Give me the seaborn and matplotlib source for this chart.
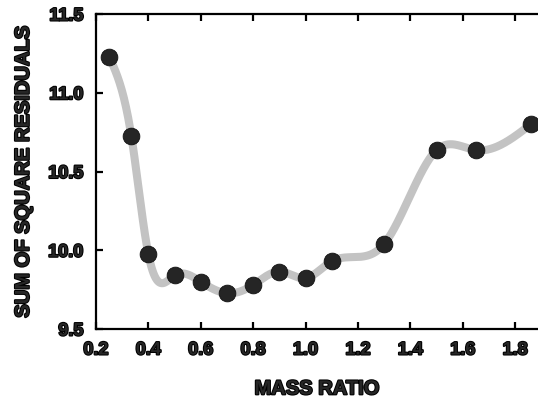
import numpy as np
import pandas as pd
import matplotlib
matplotlib.use('Agg')
import matplotlib.pyplot as plt
import matplotlib.patheffects as pe
import seaborn as sns

# data
mass_ratio = [0.25, 0.335, 0.40, 0.50, 0.60, 0.70, 0.80, 0.90, 1.00, 1.10, 1.30, 1.50, 1.65, 1.86]
ssr = [11.23, 10.725, 9.975, 9.84, 9.80, 9.727, 9.78, 9.865, 9.823, 9.93, 10.04, 10.636, 10.636, 10.80]
x_ticks = [0.2, 0.4, 0.6, 0.8, 1.0, 1.2, 1.4, 1.6, 1.8]
y_ticks = [9.5, 10.0, 10.5, 11.0, 11.5]


# natural cubic spline through the points (only for drawing the smooth grey curve)
def natural_spline(x, y, n=400):
    x = np.asarray(x, float)
    y = np.asarray(y, float)
    h = np.diff(x)
    k = len(x)
    A = np.zeros((k, k))
    b = np.zeros(k)
    A[0, 0] = 1
    A[-1, -1] = 1
    for i in range(1, k - 1):
        A[i, i - 1] = h[i - 1]
        A[i, i] = 2 * (h[i - 1] + h[i])
        A[i, i + 1] = h[i]
        b[i] = 6 * ((y[i + 1] - y[i]) / h[i] - (y[i] - y[i - 1]) / h[i - 1])
    M = np.linalg.solve(A, b)
    xs = np.linspace(x[0], x[-1], n)
    idx = np.clip(np.searchsorted(x, xs) - 1, 0, k - 2)
    x0, x1 = x[idx], x[idx + 1]
    hh = x1 - x0
    t0 = x1 - xs
    t1 = xs - x0
    ys = (M[idx] * t0 ** 3 + M[idx + 1] * t1 ** 3) / (6 * hh) \
        + (y[idx] / hh - M[idx] * hh / 6) * t0 \
        + (y[idx + 1] / hh - M[idx + 1] * hh / 6) * t1
    return xs, ys


df = pd.DataFrame({'Mass ratio': mass_ratio, 'SSR': ssr})
xs, ys = natural_spline(mass_ratio, ssr)
curve = pd.DataFrame({'x': xs, 'y': ys})

sns.set_style('white')
plt.rcParams['font.family'] = ['Liberation Sans', 'DejaVu Sans']

fig = plt.figure(figsize=(5.38, 4.0), dpi=100)
ax = fig.add_axes([0.1784, 0.1775, 0.8216, 0.7875])

sns.lineplot(data=curve, x='x', y='y', sort=False, color='#c3c3c3', linewidth=5.8,
             solid_capstyle='round', ax=ax, zorder=2)
sns.scatterplot(data=df, x='Mass ratio', y='SSR', s=145, color='#252525',
                edgecolor='#111111', linewidth=0.6, ax=ax, zorder=3)

ax.set_xlim(0.2, 1.887)
ax.set_ylim(9.5, 11.5)
ax.set_xticks(x_ticks)
ax.set_yticks(y_ticks)
ax.set_xticklabels(['%.1f' % v for v in x_ticks])
ax.set_yticklabels(['%.1f' % v for v in y_ticks])

for side in ['left', 'bottom', 'top']:
    ax.spines[side].set_visible(True)
    ax.spines[side].set_linewidth(1.6)
    ax.spines[side].set_color('black')
ax.spines['right'].set_visible(False)

ax.tick_params(axis='both', direction='in', length=5, width=1.6, color='black',
               top=True, bottom=True, left=True, right=False, labelsize=13, pad=9)

bold = [pe.withStroke(linewidth=1.5, foreground='black')]
for lab in ax.get_xticklabels() + ax.get_yticklabels():
    lab.set_fontweight('bold')
    lab.set_path_effects(bold)

ax.set_xlabel('MASS RATIO', fontsize=14.5, fontweight='bold', labelpad=15, path_effects=bold)
ax.set_ylabel('SUM OF SQUARE RESIDUALS', fontsize=14.5, fontweight='bold', labelpad=11, path_effects=bold)

fig.savefig('out.png', dpi=100)
